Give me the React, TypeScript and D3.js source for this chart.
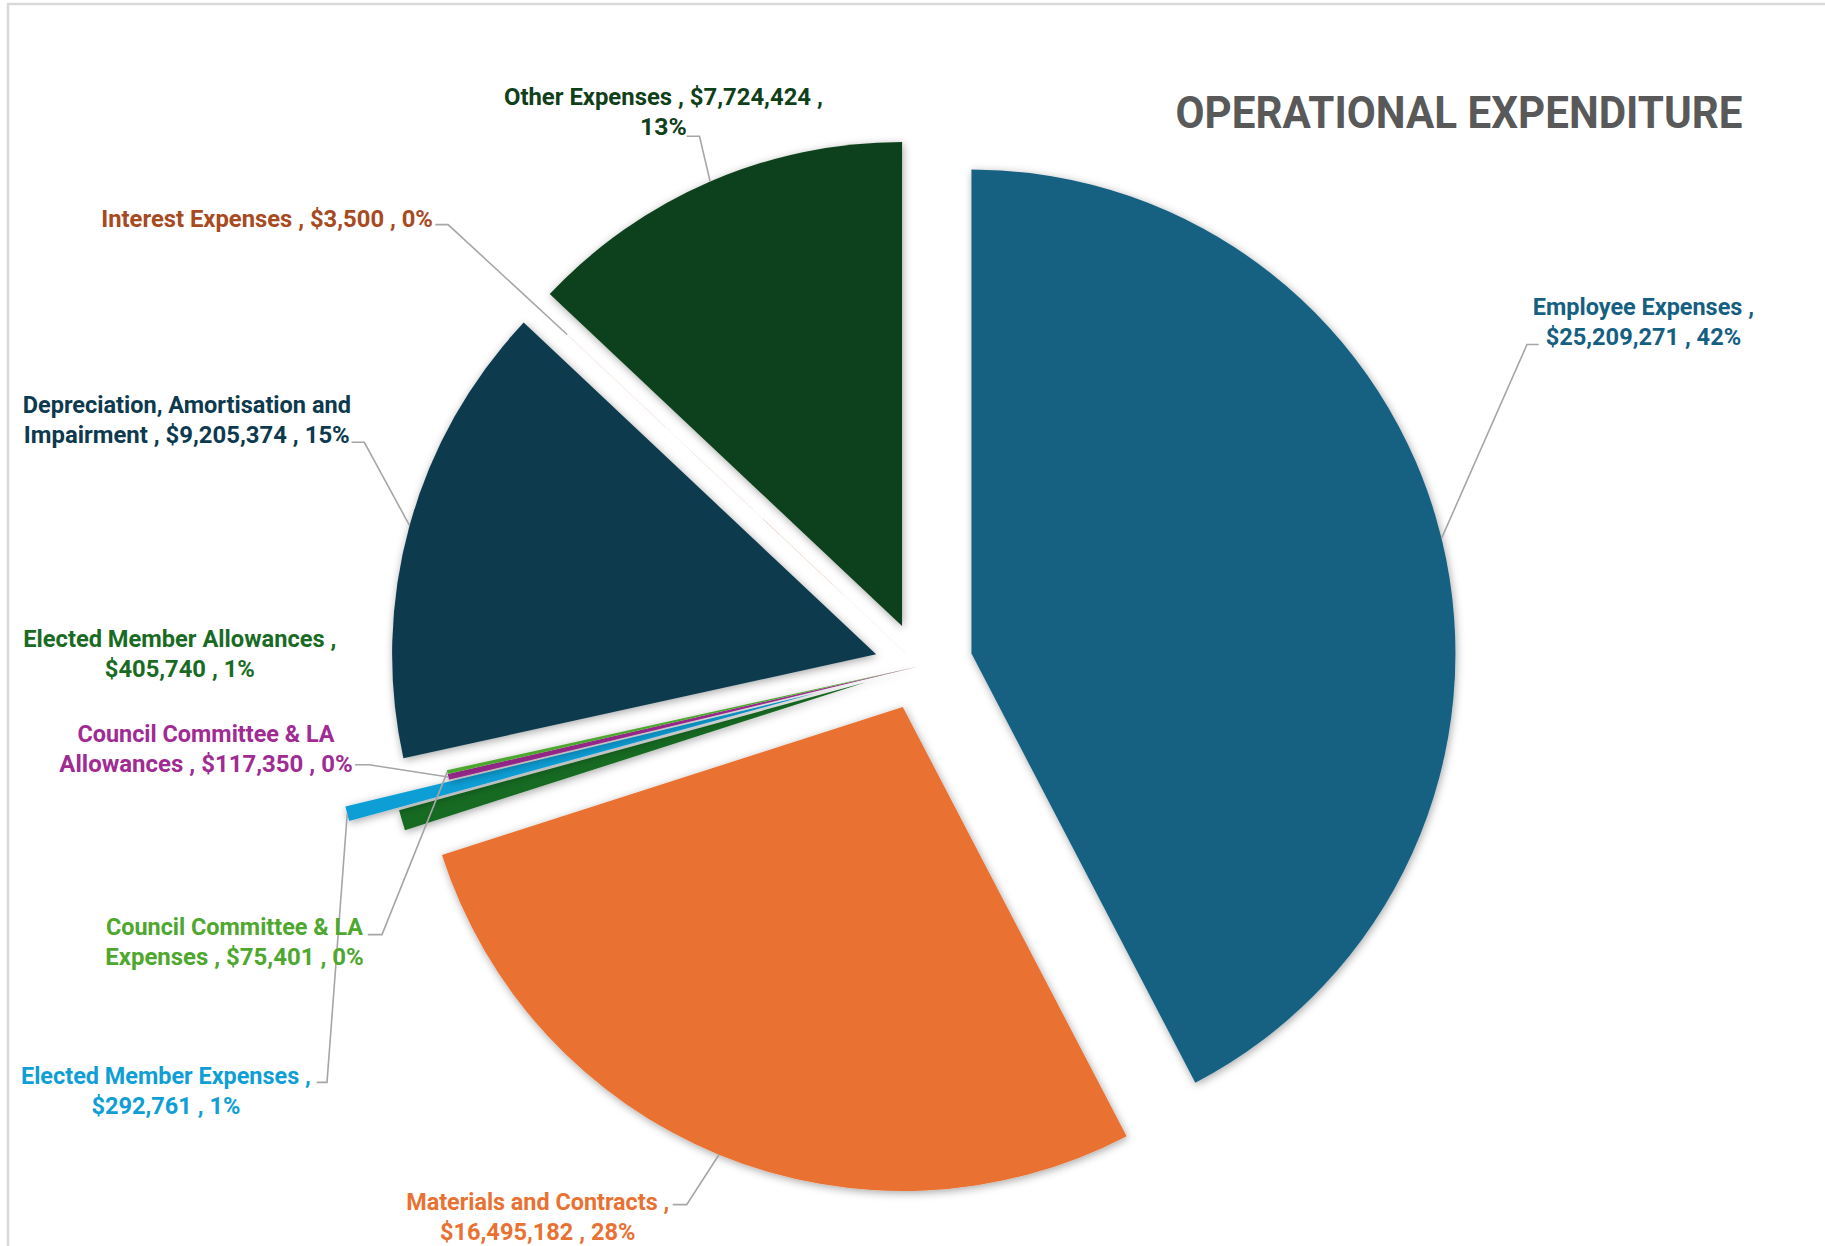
import React from 'react';
import * as d3 from 'd3';

// ---- data ----
const categories = [
  'Employee Expenses',
  'Materials and Contracts',
  'Elected Member Allowances',
  'Elected Member Expenses',
  'Council Committee & LA Allowances',
  'Council Committee & LA Expenses',
  'Depreciation, Amortisation and Impairment',
  'Interest Expenses',
  'Other Expenses',
];
const values = [25209271, 16495182, 405740, 292761, 117350, 75401, 9205374, 3500, 7724424];
const chartTitle = 'OPERATIONAL EXPENDITURE';

// ---- styles ----
const colors = ['#156082', '#E97132', '#196B24', '#0F9ED5', '#A02B93', '#4EA72E', '#0D3A4E', '#A84A1F', '#10401A'];
const explode = [53.5, 44, 56, 107, 0, 0, 45, 0, 44];

// label layout (positions only)
const labelLayout = [
  { cx: 1643.4, y: 306.1, w: [221.1, 195.5], split: 3, tick: [[1538.7, 344.5], [1527, 344.5]] },
  { cx: 537.7, y: 1201.1, w: [263, 195.5], split: 4, tick: [[672.7, 1204.6], [686.7, 1204.6]] },
  { cx: 179.8, y: 639, w: [313.1, 150.1], split: 4, tick: null },
  { cx: 165.9, y: 1075.4, w: [289.8, 149], split: 4, tick: [[316.6, 1082.4], [327, 1082.4]] },
  { cx: 206, y: 733.3, w: [257.2, 293.3], split: 4, tick: [[355, 764.7], [369, 764.7]] },
  { cx: 234.5, y: 926.5, w: [257.2, 258.4], split: 4, tick: [[367.8, 934.6], [382, 934.6]] },
  { cx: 186.8, y: 405, w: [328.2, 325.9], split: 3, tick: [[351.5, 442.3], [364.3, 442.3]] },
  { cx: 267.1, y: 218.8, w: [331.7], split: 99, tick: [[435.3, 224.6], [448.1, 224.6]] },
  { cx: 663.4, y: 96.6, w: [318.9, 46.6], split: 5, tick: [[686.7, 136.2], [699.5, 136.2]] },
];

const W = 1825;
const H = 1246;
const CX = 919.5;
const CY = 666.3;
const R = 484;
const FS = 24;
const LINE = 30;

function largestRemainderPct(vals: number[]): number[] {
  const total = d3.sum(vals);
  const raw = vals.map((v) => (v / total) * 100);
  const floors = raw.map((r) => Math.floor(r));
  let rem = 100 - d3.sum(floors);
  const order = raw.map((r, i) => ({ i, f: r - Math.floor(r) })).sort((a, b) => b.f - a.f);
  const out = floors.slice();
  for (let k = 0; k < order.length && rem > 0; k++, rem--) out[order[k].i] += 1;
  return out;
}

export default function App() {
  const pie = d3.pie<number>().sort(null).value((d) => d);
  const arcs = pie(values);
  const arcGen = d3.arc<d3.PieArcDatum<number>>().innerRadius(0).outerRadius(R);
  const pcts = largestRemainderPct(values);
  const money = d3.format('$,');

  return (
    <div style={{ position: 'absolute', left: 0, top: 0 }}>
      <svg width={W} height={H} style={{ display: 'block' }}>
        <defs>
          <filter id="sh" x="-20%" y="-20%" width="140%" height="140%">
            <feDropShadow dx="1" dy="2" stdDeviation="4" floodColor="#000" floodOpacity="0.35" />
          </filter>
        </defs>
        <rect x={0} y={0} width={W} height={H} fill="#fff" />
        <rect x={8} y={4} width={W + 40} height={H + 40} fill="#fff" stroke="#D9D9D9" strokeWidth={2.5} />

        {arcs.map((a, i) => {
          const mid = (a.startAngle + a.endAngle) / 2;
          const ox = CX + explode[i] * Math.sin(mid);
          const oy = CY - explode[i] * Math.cos(mid);
          return (
            <path
              key={i}
              d={arcGen(a) || ''}
              transform={`translate(${ox},${oy})`}
              fill={colors[i]}
              filter="url(#sh)"
            />
          );
        })}

        {arcs.map((a, i) => {
          const L = labelLayout[i];
          if (!L.tick) return null;
          const mid = (a.startAngle + a.endAngle) / 2;
          const px = CX + (explode[i] + R) * Math.sin(mid);
          const py = CY - (explode[i] + R) * Math.cos(mid);
          const [t0, t1] = L.tick;
          return (
            <path
              key={'l' + i}
              d={`M${t0[0]},${t0[1]}L${t1[0]},${t1[1]}L${px},${py}`}
              fill="none"
              stroke="#A6A6A6"
              strokeWidth={1.6}
            />
          );
        })}

        {categories.map((c, i) => {
          const L = labelLayout[i];
          const words = `${c} , ${money(values[i])} , ${pcts[i]}%`.split(' ');
          const lines = L.split >= words.length ? [words.join(' ')] : [words.slice(0, L.split).join(' '), words.slice(L.split).join(' ')];
          return (
            <g key={'t' + i} fill={colors[i]} fontFamily="Roboto, 'Open Sans', sans-serif" fontWeight={700} fontSize={FS}>
              {lines.map((ln, j) => (
                <text
                  key={j}
                  x={L.cx - L.w[j] / 2}
                  y={L.y + j * LINE + FS * 0.35}
                  textLength={L.w[j]}
                  lengthAdjust="spacingAndGlyphs"
                >
                  {ln}
                </text>
              ))}
            </g>
          );
        })}

        <text
          x={1175.5}
          y={111.7 + 44 * 0.36}
          fill="#595959"
          fontFamily="Roboto, 'Open Sans', sans-serif"
          fontWeight={700}
          fontSize={44}
          textLength={567}
          lengthAdjust="spacingAndGlyphs"
        >
          {chartTitle}
        </text>
      </svg>
    </div>
  );
}
